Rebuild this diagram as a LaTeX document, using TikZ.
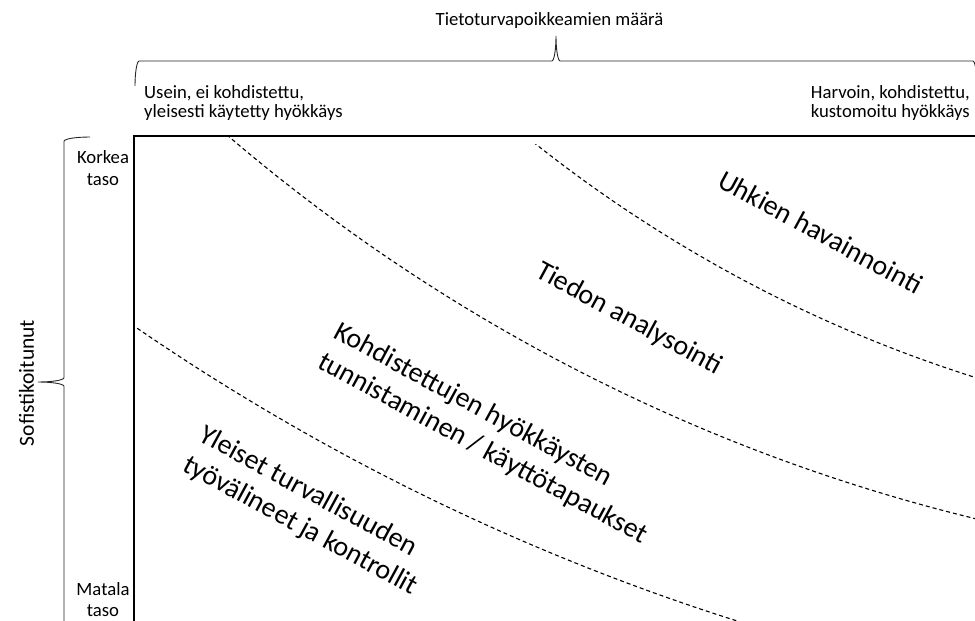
\documentclass[tikz,border=0pt]{standalone}
\usepackage{fontspec}
\setmainfont{Carlito}
\begin{document}
\begin{tikzpicture}[x=1pt,y=-1pt,
  smalllabel/.style={font=\fontsize{18.7}{20}\selectfont, inner sep=0pt},
  zonelabel/.style={font=\fontsize{28}{34}\selectfont, inner sep=0pt,
    align=left, anchor=base west, rotate=-28.5},
  bracepath/.style={line width=0.9pt, black!85},
  boundary/.style={dash pattern=on 4pt off 3pt, line width=1.1pt},
  framepath/.style={line width=2pt, black}
]
\useasboundingbox (0,0) rectangle (975,621);
\clip (0,0) rectangle (975,621);

% horizontal brace over the chart
\draw[bracepath] (135,86) .. controls (135,72.2) and (136.9,61) .. (139.2,61)
  -- (551.8,61) .. controls (554.1,61) and (556,49.8) .. (556,36)
  .. controls (556,49.8) and (557.9,61) .. (560.2,61)
  -- (972.8,61) .. controls (975.1,61) and (977,72.2) .. (977,86);

% vertical brace left of the chart
\draw[bracepath] (90,137) .. controls (75.6,137) and (64,138.9) .. (64,141.3)
  -- (64,377.7) .. controls (64,380.1) and (52.4,382) .. (38,382)
  .. controls (52.4,382) and (64,383.9) .. (64,386.3)
  -- (64,622.7) .. controls (64,625.1) and (75.6,627) .. (90,627);

% axis texts
\node[smalllabel, anchor=base] (title) at (549.5,25) {Tietoturvapoikkeamien määrä};
\node[smalllabel, anchor=base west] (oftenA) at (144,98) {Usein, ei kohdistettu,};
\node[smalllabel, anchor=base west] (oftenB) at (144,117) {yleisesti käytetty hyökkäys};
\node[smalllabel, anchor=base east] (rareA) at (970,98) {Harvoin, kohdistettu,};
\node[smalllabel, anchor=base east] (rareB) at (970,117) {kustomoitu hyökkäys};
\node[smalllabel, anchor=base] (highA) at (103,163) {Korkea};
\node[smalllabel, anchor=base] (highB) at (103,185) {taso};
\node[smalllabel, anchor=base] (lowA) at (103,595) {Matala};
\node[smalllabel, anchor=base] (lowB) at (103,616) {taso};
\node[smalllabel, font=\fontsize{21.5}{24}\selectfont, anchor=base, rotate=90]
  (soph) at (34,383) {Sofistikoitunut};

% zone boundaries
\begin{scope}
  \clip (135,137) rectangle (990,640);
  \draw[boundary] (1427,-1557) circle[radius=2284pt];
  \draw[boundary] (1405.6,-1244) circle[radius=1814pt];
\end{scope}
\begin{scope}
  \clip (135,144) rectangle (990,640);
  \draw[boundary] (1390,-936) circle[radius=1377pt];
\end{scope}

% chart frame
\draw[framepath] (134,640) -- (134,136) -- (990,136);

% zone labels (a multi-line label is placed by the baseline of its last line)
\node[zonelabel] (threat) at (716,186) {Uhkien havainnointi};
\node[zonelabel] (analysis) at (534,276) {Tiedon analysointi};
\node[zonelabel] (targeted) at (316,367)
  {Kohdistettujen hyökkäysten\\tunnistaminen / käyttötapaukset};
\node[zonelabel] (general) at (181,470)
  {Yleiset turvallisuuden\\työvälineet ja kontrollit};
\end{tikzpicture}
\end{document}
